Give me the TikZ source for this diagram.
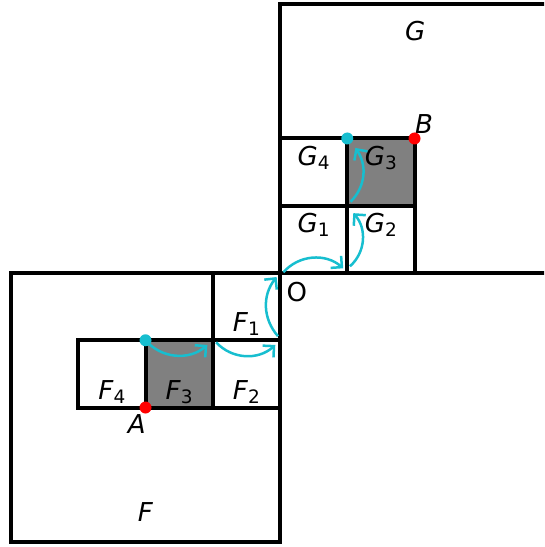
\documentclass[tikz,border=0pt]{standalone}
\usepackage{fontspec}
\setmainfont{DejaVu Sans}
\usetikzlibrary{arrows.meta}
\definecolor{tabcyan}{HTML}{17BECF}
\definecolor{midgray}{HTML}{808080}
\newcommand{\sublab}[2]{\textit{#1}\raisebox{-4pt}{\fontsize{18.5}{19}\selectfont #2}}
\tikzset{
  box/.style={draw=black, line width=4pt},
  shaded/.style={fill=midgray},
  lab/.style={inner sep=0pt, anchor=base, font=\fontsize{26}{27}\selectfont},
  flow/.style={draw=tabcyan, line width=2.5pt, -{Straight Barb[length=8pt,width=16pt,line width=2.5pt]}},
  cdot/.style={circle, fill=tabcyan, inner sep=0pt, minimum size=12pt},
  rdot/.style={circle, fill=red, inner sep=0pt, minimum size=12pt},
}
\begin{document}
\begin{tikzpicture}[x=67.25pt, y=67.25pt]
\useasboundingbox (-4.1636,-4.0743) rectangle (3.9257,4.0595);
\clip (-4.1636,-4.0743) rectangle (3.9257,4.0595);
% shaded squares
\fill[shaded] (-2,-2) rectangle (-1,-1);
\fill[shaded] (1,1) rectangle (2,2);
% big squares
\draw[box] (-4,-4) rectangle (0,0);
\draw[box] (0,0) rectangle (4,4);
% small squares
\draw[box] (-1,-1) rectangle (0,0);
\draw[box] (-1,-2) rectangle (0,-1);
\draw[box] (-2,-2) rectangle (-1,-1);
\draw[box] (-3,-2) rectangle (-2,-1);
\draw[box] (0,0) rectangle (1,1);
\draw[box] (1,0) rectangle (2,1);
\draw[box] (1,1) rectangle (2,2);
\draw[box] (0,1) rectangle (1,2);
% labels
\node[lab] (lF1) at (-0.5,-0.875) {\sublab{F}{1}};
\node[lab] (lF2) at (-0.5,-1.875) {\sublab{F}{2}};
\node[lab] (lF3) at (-1.5,-1.875) {\sublab{F}{3}};
\node[lab] (lF4) at (-2.5,-1.875) {\sublab{F}{4}};
\node[lab] (lG1) at (0.5,0.595) {\sublab{G}{1}};
\node[lab] (lG2) at (1.5,0.595) {\sublab{G}{2}};
\node[lab] (lG3) at (1.5,1.595) {\sublab{G}{3}};
\node[lab] (lG4) at (0.5,1.595) {\sublab{G}{4}};
\node[lab] (lF) at (-2.0,-3.70) {\textit{F}};
\node[lab] (lG) at (2.01,3.46) {\textit{G}};
\node[lab] (lO) at (0.25,-0.43) {O};
\node[lab] (lA) at (-2.13,-2.38) {\textit{A}};
\node[lab] (lB) at (2.14,2.08) {\textit{B}};
% arrow end points
\coordinate (s1) at (-2,-1);
\coordinate (e1) at (-1.08,-1.07);
\coordinate (s2) at (-0.95,-1.03);
\coordinate (e2) at (-0.07,-1.07);
\coordinate (s3) at (-0.03,-0.94);
\coordinate (e3) at (-0.05,-0.06);
\coordinate (s4) at (0.05,0.01);
\coordinate (e4) at (0.94,0.07);
\coordinate (s5) at (1.04,0.1);
\coordinate (e5) at (1.09,0.89);
\coordinate (s6) at (1.05,1.06);
\coordinate (e6) at (1.12,1.86);
% arrows
\draw[flow] (s1) to[bend right=45] (e1);
\draw[flow] (s2) to[bend right=45] (e2);
\draw[flow] (s3) to[bend left=40] (e3);
\draw[flow] (s4) to[bend left=45] (e4);
\draw[flow] (s5) to[bend right=45] (e5);
\draw[flow] (s6) to[bend right=40] (e6);
% dots
\node[cdot] (c1) at (-2,-1) {};
\node[cdot] (c2) at (1,2) {};
\node[rdot] (A) at (-2,-2) {};
\node[rdot] (B) at (2,2) {};
\end{tikzpicture}
\end{document}
